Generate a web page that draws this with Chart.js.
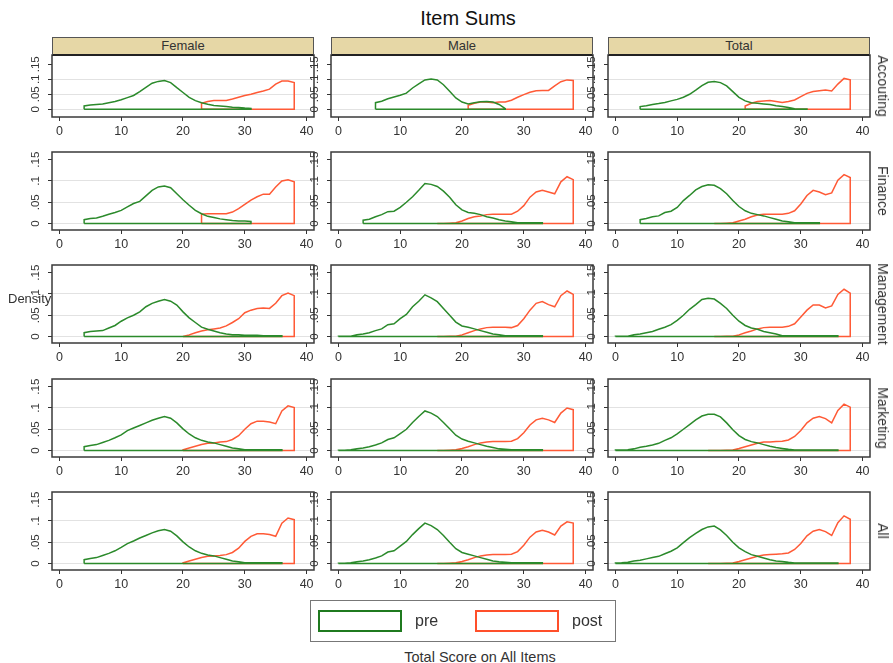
<!DOCTYPE html>
<html><head><meta charset="utf-8">
<script src="https://cdn.jsdelivr.net/npm/chart.js@4.4.1/dist/chart.umd.min.js"></script>
<style>
body{margin:0;background:#fff;width:893px;height:663px;position:relative;overflow:hidden;font-family:"Liberation Sans",Arial,sans-serif;color:#333}
.t{position:absolute;white-space:nowrap}
.strip{position:absolute;background:#E6D7A6;border:1px solid #555;border-bottom:2px solid #222;box-sizing:border-box;text-align:center;font-size:13px;line-height:15px;color:#333}
canvas{position:absolute}
</style></head><body>
<script>
// ---------- data ----------
const columns = ["Female", "Male", "Total"];
const rowNames = ["Accouting", "Finance", "Management", "Marketing", "All"];
const xTicks = [0, 10, 20, 30, 40];
const yTicks = [0, 0.05, 0.1, 0.15];
const yTickLabels = ["0", ".05", ".1", ".15"];
const seriesNames = ["pre", "post"];

// Accouting
const accFemalePreStart = 4;
const accFemalePre = [.011,.014,.016,.018,.022,.026,.032,.039,.046,.059,.073,.087,.093,.096,.089,.072,.056,.040,.029,.022,.017,.013,.011,.009,.007,.006,.004,.003];
const accFemalePostStart = 23;
const accFemalePost = [.020,.026,.029,.029,.029,.034,.040,.046,.050,.056,.061,.067,.084,.094,.094,.089];
const accMalePreStart = 6;
const accMalePre = [.022,.027,.035,.041,.047,.054,.071,.085,.098,.101,.098,.082,.060,.038,.024,.018,.022,.025,.026,.024,.016,.002];
const accMalePostStart = 21;
const accMalePost = [.013,.020,.024,.024,.022,.024,.024,.030,.040,.049,.057,.062,.063,.063,.078,.092,.098,.096];
const accTotalPreStart = 4;
const accTotalPre = [.009,.012,.016,.019,.023,.028,.033,.040,.050,.064,.079,.090,.093,.089,.078,.059,.040,.028,.022,.020,.018,.016,.012,.009,.006,.002,.001,.001];
const accTotalPostStart = 21;
const accTotalPost = [.011,.020,.026,.028,.029,.026,.023,.026,.031,.042,.053,.059,.062,.064,.061,.084,.103,.098];

// Finance
const finFemalePreStart = 4;
const finFemalePre = [.009,.012,.013,.017,.022,.026,.031,.039,.047,.052,.065,.078,.086,.088,.084,.070,.056,.043,.031,.023,.017,.014,.011,.009,.007,.006,.006,.005];
const finFemalePostStart = 23;
const finFemalePost = [.022,.023,.023,.023,.023,.027,.035,.045,.055,.063,.069,.069,.086,.100,.103,.098];
const finMalePreStart = 4;
const finMalePre = [.008,.010,.016,.021,.028,.029,.038,.050,.063,.078,.094,.092,.087,.076,.062,.044,.032,.026,.024,.021,.016,.013,.009,.006,.004,.002,.002,.002,.002,.002];
const finMalePostStart = 16;
const finMalePost = [0,0,.001,.002,.006,.012,.016,.018,.021,.022,.022,.022,.022,.029,.042,.062,.074,.078,.074,.070,.098,.110,.103];
const finTotalPreStart = 4;
const finTotalPre = [.009,.012,.016,.018,.026,.029,.038,.054,.066,.079,.087,.091,.090,.082,.070,.054,.040,.030,.024,.021,.018,.014,.010,.006,.004,.002,.002,.002,.002,.002];
const finTotalPostStart = 16;
const finTotalPost = [0,0,.001,.002,.006,.010,.016,.020,.022,.022,.022,.022,.024,.030,.046,.066,.078,.074,.068,.072,.102,.115,.108];

// Management
const manFemalePreStart = 4;
const manFemalePre = [.009,.012,.013,.014,.020,.026,.036,.044,.050,.058,.070,.078,.083,.087,.083,.074,.058,.044,.033,.022,.017,.013,.009,.006,.004,.004,.003,.003,.003,.002,.002,.002,.002];
const manFemalePostStart = 20;
const manFemalePost = [0,.004,.009,.013,.016,.018,.020,.025,.033,.042,.056,.062,.066,.067,.066,.078,.096,.102,.096];
const manMalePreStart = 0;
const manMalePre = [.001,.001,.001,.004,.006,.009,.014,.018,.028,.030,.042,.052,.070,.083,.098,.091,.082,.066,.050,.034,.025,.022,.018,.014,.010,.006,.004,.002,.002,.002,.002,.002,.002,.002];
const manMalePostStart = 16;
const manMalePost = [0,0,.0005,.001,.004,.009,.014,.018,.021,.022,.022,.022,.021,.026,.042,.062,.078,.082,.075,.070,.096,.107,.099];
const manTotalPreStart = 0;
const manTotalPre = [.001,.001,.001,.004,.006,.009,.012,.017,.022,.028,.038,.050,.064,.075,.087,.090,.088,.078,.066,.050,.036,.026,.020,.017,.012,.009,.006,.002,.002,.002,.002,.002,.002,.002,.002,.002,.002];
const manTotalPostStart = 16;
const manTotalPost = [0,0,.0005,.001,.004,.009,.013,.018,.021,.022,.022,.022,.024,.030,.046,.062,.074,.074,.067,.072,.099,.111,.102];

// Marketing
const mktFemalePreStart = 4;
const mktFemalePre = [.009,.012,.014,.019,.024,.030,.037,.047,.053,.059,.065,.071,.076,.080,.076,.065,.051,.039,.030,.024,.020,.018,.014,.010,.006,.004,.002,.002,.002,.002,.002,.002,.002];
const mktFemalePostStart = 20;
const mktFemalePost = [.002,.006,.010,.014,.017,.018,.020,.021,.026,.035,.050,.063,.069,.069,.067,.063,.093,.105,.101];
const mktMalePreStart = 0;
const mktMalePre = [.001,.001,.002,.004,.006,.009,.013,.018,.026,.030,.040,.050,.066,.080,.093,.088,.080,.066,.051,.036,.027,.022,.018,.014,.010,.007,.004,.003,.002,.002,.002,.002,.002,.002];
const mktMalePostStart = 16;
const mktMalePost = [0,0,.001,.002,.005,.009,.014,.018,.020,.021,.021,.021,.022,.028,.042,.060,.072,.076,.072,.066,.088,.100,.096];
const mktTotalPreStart = 0;
const mktTotalPre = [.0015,.0015,.002,.004,.008,.010,.013,.017,.024,.030,.039,.050,.061,.072,.081,.085,.085,.079,.065,.049,.035,.026,.021,.018,.014,.010,.007,.005,.003,.0015,.0015,.0015,.0015,.0015,.0015,.0015,.0015];
const mktTotalPostStart = 15;
const mktTotalPost = [0,0,0,.001,.0015,.005,.009,.013,.017,.020,.020,.021,.022,.025,.033,.047,.065,.076,.080,.075,.065,.094,.109,.102];

// All
const allFemalePreStart = 4;
const allFemalePre = [.009,.012,.014,.019,.024,.030,.038,.047,.053,.060,.066,.072,.077,.080,.076,.065,.051,.039,.030,.024,.020,.018,.014,.010,.006,.004,.002,.002,.002,.002,.002,.002,.002];
const allFemalePostStart = 20;
const allFemalePost = [.002,.006,.010,.014,.017,.018,.019,.021,.026,.036,.052,.064,.070,.070,.068,.064,.095,.107,.103];
const allMalePreStart = 0;
const allMalePre = [.001,.001,.002,.004,.006,.009,.013,.018,.027,.030,.041,.052,.068,.082,.095,.089,.080,.066,.050,.035,.026,.022,.018,.014,.010,.006,.004,.003,.002,.002,.002,.002,.002,.002];
const allMalePostStart = 16;
const allMalePost = [0,0,.001,.002,.005,.009,.014,.018,.020,.021,.021,.021,.022,.028,.043,.062,.074,.078,.074,.067,.088,.098,.095];
const allTotalPreStart = 0;
const allTotalPre = [.0015,.002,.003,.006,.008,.011,.014,.017,.023,.029,.037,.049,.061,.071,.080,.086,.088,.079,.066,.050,.037,.028,.021,.017,.013,.009,.006,.005,.003,.0015,.0015,.0015,.0015,.0015,.0015,.0015,.0015];
const allTotalPostStart = 15;
const allTotalPost = [0,0,0,.001,.0015,.005,.009,.013,.017,.020,.021,.022,.023,.025,.033,.047,.065,.076,.080,.075,.066,.096,.112,.104];

// ---------- build ----------
const panelData = [
  [[accFemalePreStart,accFemalePre,accFemalePostStart,accFemalePost],[accMalePreStart,accMalePre,accMalePostStart,accMalePost],[accTotalPreStart,accTotalPre,accTotalPostStart,accTotalPost]],
  [[finFemalePreStart,finFemalePre,finFemalePostStart,finFemalePost],[finMalePreStart,finMalePre,finMalePostStart,finMalePost],[finTotalPreStart,finTotalPre,finTotalPostStart,finTotalPost]],
  [[manFemalePreStart,manFemalePre,manFemalePostStart,manFemalePost],[manMalePreStart,manMalePre,manMalePostStart,manMalePost],[manTotalPreStart,manTotalPre,manTotalPostStart,manTotalPost]],
  [[mktFemalePreStart,mktFemalePre,mktFemalePostStart,mktFemalePost],[mktMalePreStart,mktMalePre,mktMalePostStart,mktMalePost],[mktTotalPreStart,mktTotalPre,mktTotalPostStart,mktTotalPost]],
  [[allFemalePreStart,allFemalePre,allFemalePostStart,allFemalePost],[allMalePreStart,allMalePre,allMalePostStart,allMalePost],[allTotalPreStart,allTotalPre,allTotalPostStart,allTotalPost]]
];

function outline(start, vals) {
  const pts = [{x: start, y: 0}];
  vals.forEach((v, i) => pts.push({x: start + i, y: v}));
  pts.push({x: start + vals.length - 1, y: 0});
  pts.push({x: start, y: 0});
  return pts;
}

const GREEN = '#2b8a2b', RED = '#ff5a36';
const colLeft = [52, 331, 608];
const FW = 262;
const rowTop = [55, 152, 265, 379, 492];
const rowH = [62, 78, 78, 78, 78];
const YW = 36, PT = 6, PR = 8, XH = 24;

Chart.defaults.font.family = "'Liberation Sans', Arial, sans-serif";
Chart.defaults.color = '#333';

const framePlugin = {
  id: 'frame',
  afterDatasetsDraw(chart) {
    const {ctx, chartArea: a} = chart;
    ctx.save();
    ctx.strokeStyle = '#3a3a3a';
    ctx.lineWidth = 1.5;
    ctx.strokeRect(a.left, a.top, a.right - a.left, a.bottom - a.top);
    ctx.restore();
  }
};

function addText(txt, css) {
  const d = document.createElement('div');
  d.className = 't';
  d.textContent = txt;
  d.style.cssText += css;
  document.body.appendChild(d);
  return d;
}

for (let r = 0; r < 5; r++) {
  for (let c = 0; c < 3; c++) {
    const [ps, pv, qs, qv] = panelData[r][c];
    const L = colLeft[c], T = rowTop[r], H = rowH[r];
    const cw = YW + FW + PR, ch = PT + H + XH;
    const cv = document.createElement('canvas');
    cv.width = cw; cv.height = ch;
    cv.style.left = (L - YW) + 'px';
    cv.style.top = (T - PT) + 'px';
    cv.style.width = cw + 'px';
    cv.style.height = ch + 'px';
    document.body.appendChild(cv);
    const yr = r === 0 ? [-0.0257, 0.181] : [-0.0151, 0.168];
    new Chart(cv, {
      type: 'scatter',
      data: {
        datasets: [
          {label: seriesNames[0], data: outline(ps, pv), showLine: true, borderColor: GREEN, borderWidth: 1.5, pointRadius: 0, tension: 0, fill: false},
          {label: seriesNames[1], data: outline(qs, qv), showLine: true, borderColor: RED, borderWidth: 1.5, pointRadius: 0, tension: 0, fill: false}
        ]
      },
      options: {
        responsive: false, animation: false, events: [],
        layout: {padding: {top: PT, right: PR, left: 0, bottom: 0}},
        plugins: {legend: {display: false}, tooltip: {enabled: false}},
        scales: {
          x: {
            type: 'linear', min: -1.2, max: 41.2,
            afterBuildTicks: s => { s.ticks = xTicks.map(v => ({value: v})); },
            afterFit: s => { s.height = XH; s.paddingLeft = 0; s.paddingRight = 0; },
            border: {display: false},
            grid: {drawOnChartArea: false, drawTicks: true, tickLength: 4, tickColor: '#333', tickWidth: 1},
            ticks: {autoSkip: false, maxRotation: 0, minRotation: 0, padding: 3, font: {size: 12.5}, color: '#333'}
          },
          y: {
            type: 'linear', min: yr[0], max: yr[1],
            afterBuildTicks: s => { s.ticks = yTicks.map(v => ({value: v})); },
            afterFit: s => { s.width = YW; s.paddingTop = 0; s.paddingBottom = 0; },
            border: {display: false},
            grid: {
              drawTicks: true, tickLength: 4, tickColor: '#333', tickWidth: 1, lineWidth: 1,
              color: ctx => (ctx.tick && ctx.tick.value < 0.12) ? '#e2e2e2' : 'rgba(0,0,0,0)'
            },
            ticks: {
              autoSkip: false, minRotation: 90, maxRotation: 90, crossAlign: 'center', padding: 4,
              font: {size: 11.5}, color: '#333',
              callback: (v, i) => yTickLabels[i]
            }
          }
        }
      },
      plugins: [framePlugin]
    });
    if (r === 0) {
      const s = document.createElement('div');
      s.className = 'strip';
      s.textContent = columns[c];
      s.style.left = L + 'px'; s.style.top = '37px';
      s.style.width = FW + 'px'; s.style.height = '19px';
      document.body.appendChild(s);
    }
    if (c === 2) {
      addText(rowNames[r], `left:883px;top:${T + H / 2}px;font-size:14px;transform:translate(-50%,-50%) rotate(90deg);`);
    }
  }
}

// titles
addText("Item Sums", "left:468px;top:18px;font-size:20px;color:#111;transform:translate(-50%,-50%);");
addText("Density", "left:8px;top:298px;font-size:13px;transform:translate(0,-50%);");
addText("Total Score on All Items", "left:480px;top:657px;font-size:14.5px;transform:translate(-50%,-50%);");

// legend
const lg = document.createElement('div');
lg.style.cssText = "position:absolute;left:310px;top:600px;width:306px;height:42px;border:1px solid #777;box-sizing:border-box;";
document.body.appendChild(lg);
const k1 = document.createElement('div');
k1.style.cssText = `position:absolute;left:318px;top:610px;width:84px;height:22px;border:2px solid #1f7a1f;box-sizing:border-box;`;
document.body.appendChild(k1);
const k2 = document.createElement('div');
k2.style.cssText = `position:absolute;left:475px;top:610px;width:84px;height:22px;border:2px solid #ff4f2a;box-sizing:border-box;`;
document.body.appendChild(k2);
addText(seriesNames[0], "left:415px;top:621px;font-size:16px;transform:translate(0,-50%);");
addText(seriesNames[1], "left:572px;top:621px;font-size:16px;transform:translate(0,-50%);");
</script>
</body></html>
